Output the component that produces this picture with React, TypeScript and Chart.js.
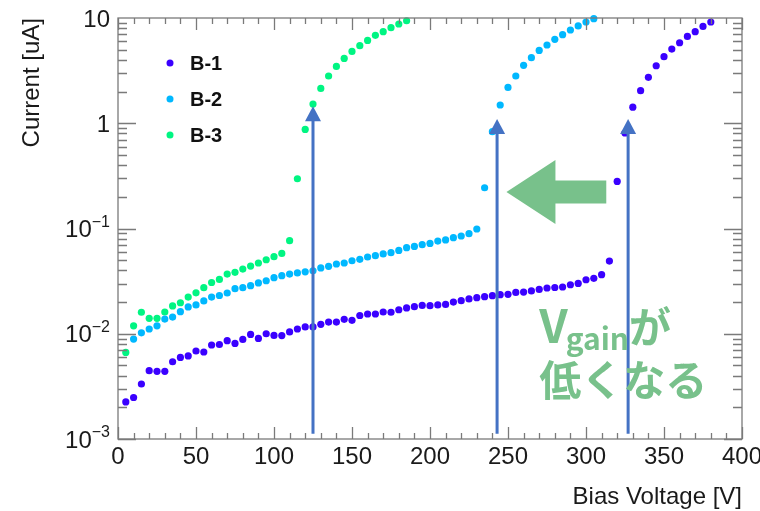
import React, { useEffect, useRef } from "react";
import { Chart, registerables } from "chart.js";

Chart.register(...registerables);

// ---------- data ----------
const voltB1 = [5, 10, 15, 20, 25, 30, 35, 40, 45, 50, 55, 60, 65, 70, 75, 80, 85, 90, 95, 100, 105, 110, 115, 120, 125, 130, 135, 140, 145, 150, 155, 160, 165, 170, 175, 180, 185, 190, 195, 200, 205, 210, 215, 220, 225, 230, 235, 240, 245, 250, 255, 260, 265, 270, 275, 280, 285, 290, 295, 300, 305, 310, 315, 320, 325, 330, 335, 340, 345, 350, 355, 360, 365, 370, 375, 380];
const currB1 = [0.00225, 0.00248, 0.00333, 0.00446, 0.0044, 0.0044, 0.00542, 0.00596, 0.00615, 0.00686, 0.00671, 0.00782, 0.0079, 0.0086, 0.0081, 0.00883, 0.00986, 0.00903, 0.01, 0.00964, 0.0096, 0.0104, 0.0111, 0.0116, 0.0116, 0.0123, 0.0129, 0.0129, 0.0137, 0.0134, 0.0149, 0.0154, 0.0154, 0.0161, 0.016, 0.0169, 0.0176, 0.0181, 0.0186, 0.0185, 0.0188, 0.019, 0.02, 0.0206, 0.0214, 0.022, 0.0225, 0.023, 0.0235, 0.0237, 0.0247, 0.0249, 0.0255, 0.0264, 0.0272, 0.0275, 0.0278, 0.0292, 0.0301, 0.0326, 0.0336, 0.0364, 0.049, 0.28, 0.81, 1.42, 2.04, 2.73, 3.52, 4.29, 5.07, 5.82, 6.68, 7.41, 8.32, 9.16];

const voltB2 = [10, 15, 20, 25, 30, 35, 40, 45, 50, 55, 60, 65, 70, 75, 80, 85, 90, 95, 100, 105, 110, 115, 120, 125, 130, 135, 140, 145, 150, 155, 160, 165, 170, 175, 180, 185, 190, 195, 200, 205, 210, 215, 220, 225, 230, 235, 240, 245, 250, 255, 260, 265, 270, 275, 280, 285, 290, 295, 300, 305];
const currB2 = [0.00891, 0.0102, 0.0111, 0.0119, 0.0138, 0.0144, 0.0162, 0.018, 0.0188, 0.0205, 0.0223, 0.0231, 0.0244, 0.0268, 0.0274, 0.0286, 0.0304, 0.0319, 0.0341, 0.0356, 0.0369, 0.0378, 0.0388, 0.0397, 0.0422, 0.0437, 0.046, 0.047, 0.0494, 0.0509, 0.0536, 0.0552, 0.0573, 0.0589, 0.0619, 0.0657, 0.0676, 0.0702, 0.0722, 0.076, 0.0778, 0.0818, 0.0849, 0.0892, 0.0989, 0.244, 0.832, 1.49, 2.19, 2.81, 3.55, 4.2, 4.92, 5.54, 6.27, 6.94, 7.69, 8.4, 9.16, 9.85];

const voltB3 = [5, 10, 15, 20, 25, 30, 35, 40, 45, 50, 55, 60, 65, 70, 75, 80, 85, 90, 95, 100, 105, 110, 115, 120, 125, 130, 135, 140, 145, 150, 155, 160, 165, 170, 175, 180, 185];
const currB3 = [0.00665, 0.0119, 0.016, 0.014, 0.014, 0.0161, 0.0184, 0.0197, 0.0223, 0.0245, 0.0274, 0.0307, 0.0328, 0.0369, 0.0383, 0.0412, 0.044, 0.047, 0.0505, 0.054, 0.058, 0.0766, 0.297, 0.874, 1.52, 2.14, 2.81, 3.47, 4.13, 4.81, 5.46, 6.12, 6.84, 7.41, 8.09, 8.77, 9.42];

const seriesNames = ["B-1", "B-2", "B-3"];
const seriesColors = ["#3a00ff", "#00b8ff", "#00f582"];

const xMajorTicks = [0, 50, 100, 150, 200, 250, 300, 350, 400];
const xTickLabels = ["0", "50", "100", "150", "200", "250", "300", "350", "400"];
const yDecadeTicks = [0.001, 0.01, 0.1, 1, 10];
const yTickBase = ["10", "10", "10", "1", "10"];
const yTickSup = ["\u22123", "\u22122", "\u22121", "", ""];

const xTitle = "Bias Voltage [V]";
const yTitle = "Current [uA]";

// annotation anchors (data coordinates)
const arrowVolts = [125, 243, 327];
const arrowTips = [1.45, 1.1, 1.1];
const arrowBase = 0.00112;
const bigArrowTip = { x: 249, y: 0.222 };
const bigArrowTailX = 313;
const noteAnchor = { x: 270, y: 0.0082 };
const noteLine2Y = 0.0036;

const FONT = '"Liberation Sans", Arial, sans-serif';
const JFONT = '"Noto Sans CJK JP", "Noto Sans", sans-serif';
const GREEN = "#78c18b";
const BLUE = "#4472c4";

const overlay = {
  id: "overlay",
  afterDatasetsDraw(chart: any) {
    const { ctx, chartArea: a, scales } = chart;
    const xs = scales.x;
    const ys = scales.y;
    ctx.save();

    // frame
    ctx.strokeStyle = "#7a7a7a";
    ctx.lineWidth = 1.3;
    ctx.strokeRect(a.left, a.top, a.right - a.left, a.bottom - a.top);

    // x ticks
    ctx.beginPath();
    for (let v = 0; v <= 400; v += 10) {
      const px = Math.round(xs.getPixelForValue(v)) + 0.5;
      const len = v % 50 === 0 ? 12 : 6;
      ctx.moveTo(px, a.bottom);
      ctx.lineTo(px, a.bottom - len);
      ctx.moveTo(px, a.top);
      ctx.lineTo(px, a.top + len);
    }
    // y ticks
    for (let d = -3; d <= 0; d++) {
      for (let m = 1; m <= 9; m++) {
        const v = m * Math.pow(10, d);
        const py = Math.round(ys.getPixelForValue(v)) + 0.5;
        const len = m === 1 ? 18 : 9;
        ctx.moveTo(a.left, py);
        ctx.lineTo(a.left + len, py);
        ctx.moveTo(a.right, py);
        ctx.lineTo(a.right - len, py);
      }
    }
    ctx.stroke();

    // x tick labels
    ctx.fillStyle = "#1a1a1a";
    ctx.font = `24px ${FONT}`;
    ctx.textAlign = "center";
    ctx.textBaseline = "alphabetic";
    xMajorTicks.forEach((v, i) => {
      ctx.fillText(xTickLabels[i], xs.getPixelForValue(v), a.bottom + 25);
    });

    // y tick labels
    yDecadeTicks.forEach((v, i) => {
      const py = ys.getPixelForValue(v);
      const right = a.left - 8;
      ctx.font = `16px ${FONT}`;
      const supW = yTickSup[i] ? ctx.measureText(yTickSup[i]).width : 0;
      ctx.font = `24px ${FONT}`;
      ctx.textAlign = "right";
      ctx.textBaseline = "middle";
      ctx.fillText(yTickBase[i], right - supW, py + 2);
      if (yTickSup[i]) {
        ctx.font = `16px ${FONT}`;
        ctx.textAlign = "left";
        ctx.fillText(yTickSup[i], right - supW, py - 6);
      }
    });

    // axis titles
    ctx.font = `24px ${FONT}`;
    ctx.textAlign = "right";
    ctx.textBaseline = "alphabetic";
    ctx.fillText(xTitle, a.right, a.bottom + 65);
    ctx.save();
    ctx.translate(39, a.top);
    ctx.rotate(-Math.PI / 2);
    ctx.textAlign = "right";
    ctx.textBaseline = "alphabetic";
    ctx.fillText(yTitle, 0, 0);
    ctx.restore();

    // legend
    seriesNames.forEach((n, i) => {
      const ly = 63 + i * 36;
      ctx.fillStyle = seriesColors[i];
      ctx.beginPath();
      ctx.arc(170, ly, 3.5, 0, Math.PI * 2);
      ctx.fill();
      ctx.fillStyle = "#111";
      ctx.font = `bold 20px ${FONT}`;
      ctx.textAlign = "left";
      ctx.textBaseline = "middle";
      ctx.fillText(n, 190, ly + 1);
    });

    // blue vertical arrows
    ctx.strokeStyle = BLUE;
    ctx.fillStyle = BLUE;
    ctx.lineWidth = 3;
    arrowVolts.forEach((v, i) => {
      const px = xs.getPixelForValue(v);
      const tip = ys.getPixelForValue(arrowTips[i]);
      const base = ys.getPixelForValue(arrowBase);
      ctx.beginPath();
      ctx.moveTo(px, base);
      ctx.lineTo(px, tip + 14);
      ctx.stroke();
      ctx.beginPath();
      ctx.moveTo(px, tip);
      ctx.lineTo(px - 8, tip + 15);
      ctx.lineTo(px + 8, tip + 15);
      ctx.closePath();
      ctx.fill();
    });

    // big green arrow
    const tx = xs.getPixelForValue(bigArrowTip.x);
    const ty = ys.getPixelForValue(bigArrowTip.y);
    const tail = xs.getPixelForValue(bigArrowTailX);
    ctx.fillStyle = GREEN;
    ctx.beginPath();
    ctx.moveTo(tx, ty);
    ctx.lineTo(tx + 49, ty - 32);
    ctx.lineTo(tx + 49, ty - 11.5);
    ctx.lineTo(tail, ty - 11.5);
    ctx.lineTo(tail, ty + 11.5);
    ctx.lineTo(tx + 49, ty + 11.5);
    ctx.lineTo(tx + 49, ty + 32);
    ctx.closePath();
    ctx.fill();

    // note text
    const nx = xs.getPixelForValue(noteAnchor.x);
    const ny = ys.getPixelForValue(noteAnchor.y);
    ctx.fillStyle = GREEN;
    ctx.textAlign = "left";
    ctx.textBaseline = "alphabetic";
    ctx.font = `bold 46px ${JFONT}`;
    ctx.fillText("V", nx, ny);
    const vw = ctx.measureText("V").width;
    ctx.font = `bold 30px ${JFONT}`;
    ctx.fillText("gain", nx + vw - 2, ny + 7);
    const gw = ctx.measureText("gain").width;
    ctx.font = `bold 42px ${JFONT}`;
    ctx.textBaseline = "middle";
    ctx.fillText("が", nx + vw - 2 + gw, ny - 16);
    ctx.fillText("低くなる", nx, ys.getPixelForValue(noteLine2Y));

    ctx.restore();
  },
};

export default function App() {
  const ref = useRef<HTMLCanvasElement | null>(null);
  useEffect(() => {
    if (!ref.current) return;
    const mk = (xsArr: number[], ysArr: number[]) => xsArr.map((v, i) => ({ x: v, y: ysArr[i] }));
    const chart = new Chart(ref.current, {
      type: "scatter",
      data: {
        datasets: [
          { label: seriesNames[0], data: mk(voltB1, currB1), backgroundColor: seriesColors[0] },
          { label: seriesNames[1], data: mk(voltB2, currB2), backgroundColor: seriesColors[1] },
          { label: seriesNames[2], data: mk(voltB3, currB3), backgroundColor: seriesColors[2] },
        ].map((d) => ({
          ...d,
          pointRadius: 3.6,
          pointBorderWidth: 0,
          borderWidth: 0,
          pointBackgroundColor: d.backgroundColor,
          clip: false as any,
        })),
      },
      options: {
        responsive: false,
        devicePixelRatio: 1,
        animation: false,
        layout: { padding: { left: 118, right: 18, top: 18, bottom: 72 } },
        plugins: { legend: { display: false }, tooltip: { enabled: false } },
        scales: {
          x: { type: "linear", min: 0, max: 400, display: false },
          y: { type: "logarithmic", min: 0.001, max: 10, display: false },
        },
      },
      plugins: [overlay],
    });
    return () => chart.destroy();
  }, []);
  return (
    <div style={{ position: "fixed", left: 0, top: 0, width: 760, height: 511, background: "#fff" }}>
      <canvas ref={ref} width={760} height={511} />
    </div>
  );
}
